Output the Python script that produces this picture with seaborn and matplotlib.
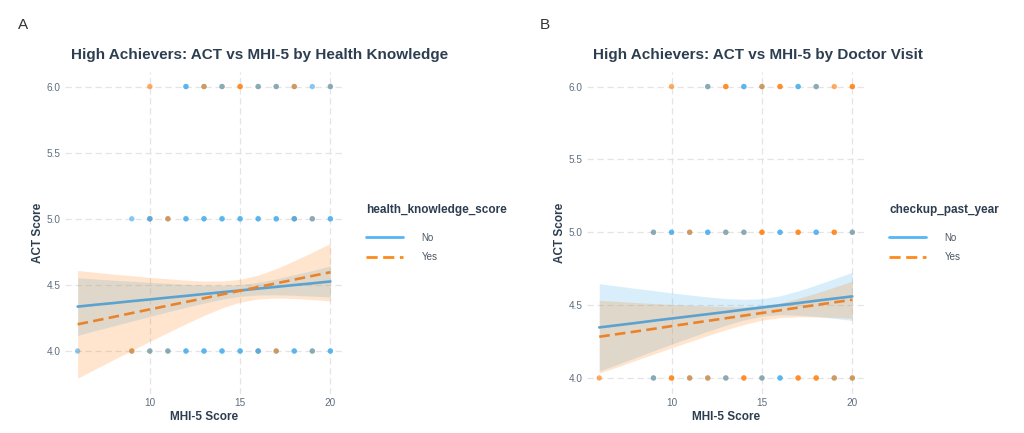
import matplotlib
matplotlib.use("Agg")
import matplotlib.pyplot as plt
import seaborn as sns
import pandas as pd
from matplotlib.lines import Line2D

# ---------------- data ----------------
# Points: for each ACT level, MHI-5 positions and the groups stacked at that
# position in drawing order (N = "No", Y = "Yes").
a6_mhi = [10, 12, 13, 14, 15, 16, 17, 18, 19, 20]
a6_grp = ["Y", "NN", "NY", "YN", "YY", "YN", "YN", "NY", "N", "YN"]
a5_mhi = [9, 10, 11, 12, 13, 14, 15, 16, 17, 18, 19, 20]
a5_grp = ["N", "YNN", "NY", "NN", "NN", "NN", "NN", "NN", "NN", "YNN", "YN", "NN"]
a4_mhi = [6, 9, 10, 11, 12, 13, 14, 15, 16, 17, 18, 19, 20]
a4_grp = ["N", "NY", "YN", "YN", "NN", "NN", "NN", "NN", "YNN", "NY", "NN", "YN", "NN"]

b6_mhi = [10, 12, 13, 14, 15, 16, 17, 18, 19, 20]
b6_grp = ["Y", "YN", "YY", "NN", "NY", "YY", "NN", "YN", "Y", "YY"]
b5_mhi = [9, 10, 11, 12, 13, 14, 15, 16, 17, 18, 19, 20]
b5_grp = ["YN", "NN", "NY", "NN", "YN", "YN", "YY", "NN", "YY", "NN", "YY", "YN"]
b4_mhi = [6, 9, 10, 11, 12, 13, 14, 15, 16, 17, 18, 19, 20]
b4_grp = ["Y", "YN", "YY", "NY", "NY", "YN", "YY", "YN", "NN", "YY", "YY", "NY", "NY"]

# Fitted lines and 95% bands
mhi_grid = [6, 7, 8, 9, 10, 11, 12, 13, 14, 15, 16, 17, 18, 19, 20]

a_no_fit = [4.336, 4.350, 4.363, 4.377, 4.390, 4.404, 4.417, 4.431, 4.445, 4.458, 4.472, 4.485, 4.499, 4.512, 4.526]
a_no_lo = [4.118, 4.155, 4.190, 4.226, 4.261, 4.296, 4.330, 4.362, 4.392, 4.413, 4.424, 4.425, 4.421, 4.415, 4.408]
a_no_hi = [4.554, 4.545, 4.536, 4.528, 4.519, 4.512, 4.504, 4.500, 4.498, 4.503, 4.520, 4.545, 4.577, 4.609, 4.644]
a_yes_fit = [4.202, 4.230, 4.258, 4.287, 4.315, 4.343, 4.371, 4.399, 4.428, 4.456, 4.484, 4.512, 4.540, 4.568, 4.596]
a_yes_lo = [3.795, 3.865, 3.935, 4.004, 4.073, 4.140, 4.206, 4.269, 4.326, 4.370, 4.394, 4.401, 4.397, 4.389, 4.379]
a_yes_hi = [4.609, 4.595, 4.581, 4.570, 4.557, 4.546, 4.536, 4.529, 4.530, 4.542, 4.574, 4.623, 4.683, 4.747, 4.814]

b_no_fit = [4.347, 4.362, 4.377, 4.393, 4.408, 4.423, 4.438, 4.453, 4.469, 4.484, 4.499, 4.514, 4.530, 4.545, 4.560]
b_no_lo = [4.047, 4.093, 4.139, 4.186, 4.232, 4.276, 4.320, 4.361, 4.398, 4.424, 4.434, 4.431, 4.422, 4.409, 4.395]
b_no_hi = [4.647, 4.631, 4.615, 4.600, 4.584, 4.570, 4.556, 4.545, 4.540, 4.544, 4.564, 4.597, 4.638, 4.681, 4.725]
b_yes_fit = [4.283, 4.301, 4.319, 4.337, 4.356, 4.374, 4.392, 4.410, 4.428, 4.446, 4.464, 4.483, 4.501, 4.519, 4.537]
b_yes_lo = [4.033, 4.076, 4.120, 4.163, 4.207, 4.249, 4.291, 4.331, 4.367, 4.397, 4.414, 4.420, 4.419, 4.415, 4.409]
b_yes_hi = [4.533, 4.526, 4.518, 4.511, 4.505, 4.499, 4.494, 4.490, 4.489, 4.495, 4.514, 4.546, 4.583, 4.623, 4.665]

group_labels = ["No", "Yes"]
y_ticks = [4.0, 4.5, 5.0, 5.5, 6.0]
x_ticks = [10, 15, 20]

titles = ["High Achievers: ACT vs MHI-5 by Health Knowledge",
          "High Achievers: ACT vs MHI-5 by Doctor Visit"]
legend_titles = ["health_knowledge_score", "checkup_past_year"]
panel_tags = ["A", "B"]

# ---------------- style ----------------
sns.set_theme(style="white")
plt.rcParams['font.family'] = ['Liberation Sans', 'DejaVu Sans']

BLUE = "#45ADEE"
ORANGE = "#FF7F0E"
BLUE_LINE = "#5BA2CF"
ORANGE_LINE = "#EC8228"
LEG_BLUE = "#56B6F4"
LEG_ORANGE = "#FF8A1C"
DARK = "#2C3E50"
TICK = "#5D6D7E"
GRID = "#E4E4E4"


def expand(rows):
    recs = []
    for act, xs, grps in rows:
        for x, g in zip(xs, grps):
            for ch in g:
                recs.append((x, act, "No" if ch == "N" else "Yes"))
    return pd.DataFrame(recs, columns=["mhi", "act", "grp"])


pts_a = expand([(6.0, a6_mhi, a6_grp), (5.0, a5_mhi, a5_grp), (4.0, a4_mhi, a4_grp)])
pts_b = expand([(6.0, b6_mhi, b6_grp), (5.0, b5_mhi, b5_grp), (4.0, b4_mhi, b4_grp)])

fig = plt.figure(figsize=(10.24, 4.33), dpi=100)
W, H = 1024, 433
ax_a = fig.add_axes([65 / W, 1 - 394 / H, 278 / W, 322 / H])
ax_b = fig.add_axes([586.6 / W, 1 - 394 / H, 278.4 / W, 322 / H])

panels = [
    (ax_a, pts_a, (a_no_fit, a_no_lo, a_no_hi), (a_yes_fit, a_yes_lo, a_yes_hi), (3.675, 6.11)),
    (ax_b, pts_b, (b_no_fit, b_no_lo, b_no_hi), (b_yes_fit, b_yes_lo, b_yes_hi), (3.89, 6.10)),
]

for ax, pts, no, yes, ylim in panels:
    sns.scatterplot(data=pts, x="mhi", y="act", hue="grp",
                    palette={"No": BLUE, "Yes": ORANGE}, alpha=0.65, s=15,
                    linewidth=0, legend=False, ax=ax, zorder=2)
    ax.fill_between(mhi_grid, no[1], no[2], color=BLUE, alpha=0.2, linewidth=0, zorder=3)
    ax.fill_between(mhi_grid, yes[1], yes[2], color=ORANGE, alpha=0.2, linewidth=0, zorder=4)
    sns.lineplot(x=mhi_grid, y=no[0], color=BLUE_LINE, linewidth=1.9, ax=ax, zorder=5)
    sns.lineplot(x=mhi_grid, y=yes[0], color=ORANGE_LINE, linewidth=1.9,
                 linestyle=(0, (4, 2)), ax=ax, zorder=6)

    ax.set_xlim(5.3, 20.7)
    ax.set_ylim(*ylim)
    ax.set_xticks(x_ticks)
    ax.set_xticklabels([str(t) for t in x_ticks])
    ax.set_yticks(y_ticks)
    ax.set_yticklabels([f"{t:.1f}" for t in y_ticks])
    ax.grid(True, color=GRID, linestyle=(0, (5, 3)), linewidth=0.9)
    ax.set_axisbelow(True)
    sns.despine(ax=ax, left=True, bottom=True)
    ax.tick_params(length=0, labelsize=7.2, labelcolor=TICK, pad=3)
    ax.set_xlabel("MHI-5 Score", fontsize=8.5, fontweight="bold", color=DARK)
    ax.set_ylabel("ACT Score", fontsize=8.5, fontweight="bold", color=DARK)
    ax.xaxis.set_label_coords(0.5, -0.052)
    ax.yaxis.set_label_coords(-0.074, 0.5)

# titles and tags
fig.text(71 / W, 1 - 55 / H, titles[0], ha="left", va="center", fontsize=11,
         fontweight="bold", color=DARK)
fig.text(593 / W, 1 - 55 / H, titles[1], ha="left", va="center", fontsize=11,
         fontweight="bold", color=DARK)
fig.text(18 / W, 1 - 25 / H, panel_tags[0], ha="left", va="center", fontsize=11, color="#333333")
fig.text(540 / W, 1 - 25 / H, panel_tags[1], ha="left", va="center", fontsize=11, color="#333333")

# legends
for lx, ltitle in [(366, legend_titles[0]), (889, legend_titles[1])]:
    handles = [Line2D([0], [0], color=LEG_BLUE, linewidth=2.0),
               Line2D([0], [0], color=LEG_ORANGE, linewidth=2.0, linestyle=(0, (4, 2)))]
    leg = fig.legend(handles, group_labels, title=ltitle, loc="upper left",
                     bbox_to_anchor=(lx / W, 1 - 204 / H), frameon=False, fontsize=7,
                     title_fontproperties={"weight": "bold", "size": 8.5},
                     handlelength=3.8, handletextpad=1.9, labelspacing=0.95,
                     borderaxespad=0, borderpad=0)
    leg.get_title().set_color(DARK)
    for t in leg.get_texts():
        t.set_color("#4A5563")
    leg._legend_box.align = "left"
    leg._legend_box.sep = 12.0

fig.savefig("out.png", dpi=100)
